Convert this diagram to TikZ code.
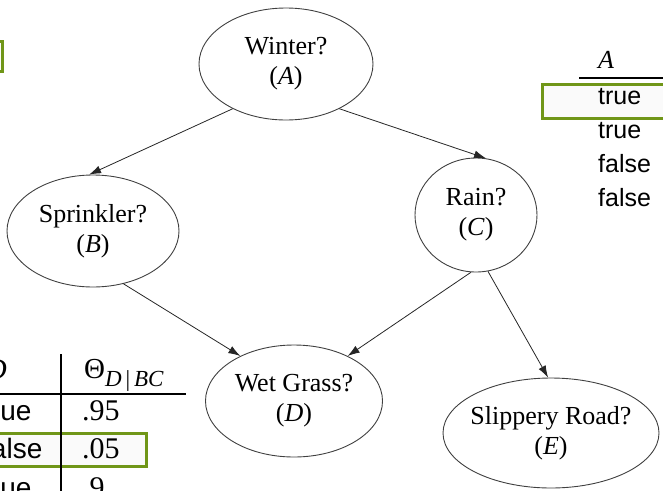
\documentclass[tikz,border=0pt]{standalone}
\usepackage{fontspec}
\setmainfont{Liberation Serif}
\newfontfamily\arialf{Liberation Sans}
\usetikzlibrary{shapes.geometric,arrows.meta}
\definecolor{boxgreen}{RGB}{112,150,24}
\begin{document}
\begin{tikzpicture}[x=1pt,y=-1pt,
  bnode/.style={ellipse,draw=black!75,line width=0.9pt,inner sep=-15pt,align=center,
    font=\fontsize{26}{30}\selectfont},
  arr/.style={-{Latex[length=12pt,width=8pt]},draw=black!85,line width=0.8pt},
  hl/.style={draw=boxgreen,line width=3pt,fill=black!2},
  tf/.style={anchor=base west,inner sep=0pt,font=\arialf\fontsize{25}{30}\selectfont},
  tfl/.style={anchor=base west,inner sep=0pt,font=\arialf\fontsize{28}{30}\selectfont},
  num/.style={anchor=base west,inner sep=0pt,font=\fontsize{26}{30}\selectfont},
  numl/.style={anchor=base west,inner sep=0pt,font=\fontsize{30}{32}\selectfont},
  tabrule/.style={draw=black,line width=1.6pt}]
\useasboundingbox (0,0) rectangle (663,490);
\clip (0,0) rectangle (663,490);

% top-left highlight (mostly off-page)
\draw[hl] (-60,41) rectangle (2,71);

% right table (A column)
\node[num] (ha) at (598,68) {\textit{A}};
\coordinate (rl1) at (579,78);
\coordinate (rl2) at (670,78);
\draw[tabrule] (rl1) -- (rl2);
\draw[hl] (542,84) rectangle (675,118);
\node[tf] (r1) at (598,104) {true};
\node[tf] (r2) at (598,138) {true};
\node[tf] (r3) at (598,172) {false};
\node[tf] (r4) at (598,206) {false};

% lower-left table (D | Theta)
\coordinate (vl1) at (61,354);
\coordinate (vl2) at (61,495);
\coordinate (hl1) at (-5,394);
\coordinate (hl2) at (186,394);
\draw[hl] (-60,433) rectangle (146,466);
\draw[tabrule] (vl1) -- (vl2);
\draw[tabrule] (hl1) -- (hl2);
\node[numl,anchor=base east] (hd) at (7,379) {\textit{D}};
\node[numl] (ht) at (84,378) {\fontsize{29}{30}\selectfont Θ\raisebox{-8pt}{\fontsize{23}{24}\selectfont\textit{D}\,|\,\textit{BC}}};
\node[tfl] (l1) at (-17,420) {true};
\node[tfl] (l2) at (-17,458) {false};
\node[tfl] (l3) at (-17,497) {true};
\node[numl] (n1) at (82,420) {.95};
\node[numl] (n2) at (82,458) {.05};
\node[numl] (n3) at (82,497) {.9};

% network nodes
\node[bnode,minimum width=174pt,minimum height=112pt] (A) at (286,64) {Winter?\\(\textit{A})};
\node[bnode,minimum width=172pt,minimum height=112pt] (B) at (93,231) {Sprinkler?\\(\textit{B})};
\node[bnode,minimum width=122pt,minimum height=114pt] (C) at (476,215) {Rain?\\(\textit{C})};
\node[bnode,minimum width=177pt,minimum height=112pt] (D) at (294,401) {Wet Grass?\\(\textit{D})};
\node[bnode,minimum width=216pt,minimum height=110pt] (E) at (551,433) {Slippery Road?\\(\textit{E})};

% arrows
\draw[arr] (A.220) -- (B.94);
\draw[arr] (A.320) -- (C.80);
\draw[arr] (B.300) -- (D.140);
\draw[arr] (C.265) -- (D.40);
\draw[arr] (C.282) -- (E.93);
\end{tikzpicture}
\end{document}
